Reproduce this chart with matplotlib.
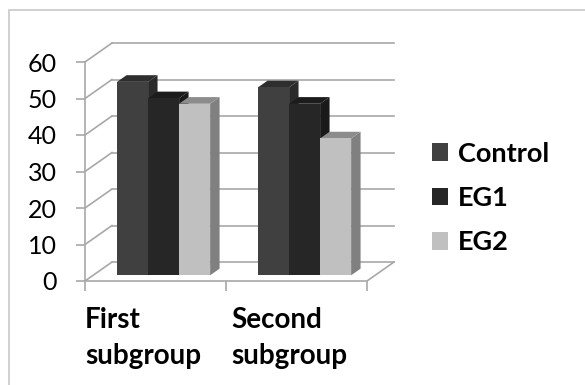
import matplotlib.pyplot as plt
from matplotlib.patches import Polygon, Patch, Rectangle

categories = ['First\nsubgroup', 'Second\nsubgroup']
series = ['Control', 'EG1', 'EG2']
control = [53, 51.5]
eg1 = [48.5, 47]
eg2 = [47, 37.5]
yticks = [0, 10, 20, 30, 40, 50, 60]

front = ['#404040', '#262626', '#c0c0c0']
top = ['#2e2e2e', '#1c1c1c', '#8c8c8c']
side = ['#2a2a2a', '#1a1a1a', '#808080']
grid = '#a8a8a8'

plt.rcParams['font.family'] = ['Lato', 'DejaVu Sans']

W, H = 585, 385
fig = plt.figure(figsize=(W / 100, H / 100), dpi=100)
x0, x1, y0, y1 = 85, 367, 281, 62
ax = fig.add_axes([x0 / W, 1 - y0 / H, (x1 - x0) / W, (y0 - y1) / H])
ax.set_xlim(0, 2)
ax.set_ylim(0, 60)

# depth of the box, converted from pixels into data units
px_x = (x1 - x0) / 2.0
px_y = (y0 - y1) / 60.0
dX = 27 / px_x
dY = 19 / px_y

# back wall and left wall gridlines
for v in yticks:
    ax.plot([0, dX], [v, v + dY], color=grid, lw=1.2, clip_on=False, zorder=1)
    ax.plot([dX, 2 + dX], [v + dY, v + dY], color=grid, lw=1.2, clip_on=False, zorder=1)
# floor
ax.plot([0, 2, 2 + dX], [0, 0, dY], color=grid, lw=1.2, clip_on=False, zorder=1)

# 3d columns
vals = [control, eg1, eg2]
w = 0.22
start = (1 - 3 * w) / 2
d0, d1 = 0.3, 0.65
for i in range(len(categories)):
    for j in range(len(series)):
        v = vals[j][i]
        xa = i + start + j * w + d0 * dX
        xb = xa + w
        ya = d0 * dY
        yb = v + ya
        bx = (d1 - d0) * dX
        by = (d1 - d0) * dY
        z = 3 + i * 10 + j
        ax.add_patch(Polygon([(xb, ya), (xb, yb), (xb + bx, yb + by), (xb + bx, ya + by)],
                             closed=True, fc=side[j], ec='none', clip_on=False, zorder=z))
        ax.add_patch(Polygon([(xa, yb), (xb, yb), (xb + bx, yb + by), (xa + bx, yb + by)],
                             closed=True, fc=top[j], ec='none', clip_on=False, zorder=z))
        ax.add_patch(Rectangle((xa, ya), w, v, fc=front[j], ec='none', clip_on=False, zorder=z))

for s in ['top', 'right', 'bottom']:
    ax.spines[s].set_visible(False)
ax.spines['left'].set_color(grid)
ax.spines['left'].set_linewidth(1.2)
ax.set_yticks(yticks)
ax.tick_params(axis='y', length=6.5, width=1.2, color=grid, pad=14, labelsize=18)
ax.set_xticks([0, 1, 2])
ax.set_xticklabels([])
ax.tick_params(axis='x', length=7, width=1.2, color=grid, pad=0)

lab_x = [0.0, 1.04]
for k, c in enumerate(categories):
    ax.text(lab_x[k], -0.12, c, transform=ax.get_xaxis_transform(), ha='left', va='top',
            fontsize=20, fontweight='bold', linespacing=1.45)

handles = [Patch(fc=front[j], ec='none') for j in range(3)]
fig.legend(handles, series, loc='center left', bbox_to_anchor=(418 / W, 1 - 198 / H),
           frameon=False, prop={'weight': 'bold', 'size': 19.5}, borderpad=0,
           handlelength=0.62, handleheight=0.62, handletextpad=0.35, labelspacing=0.75)

# outer chart border
fig.add_artist(Rectangle((9 / W, -0.2), 1.2, 1.2 - 10 / H, transform=fig.transFigure,
                         fill=False, ec='#c8c8c8', lw=1.2))

fig.savefig('out.png', dpi=100)
